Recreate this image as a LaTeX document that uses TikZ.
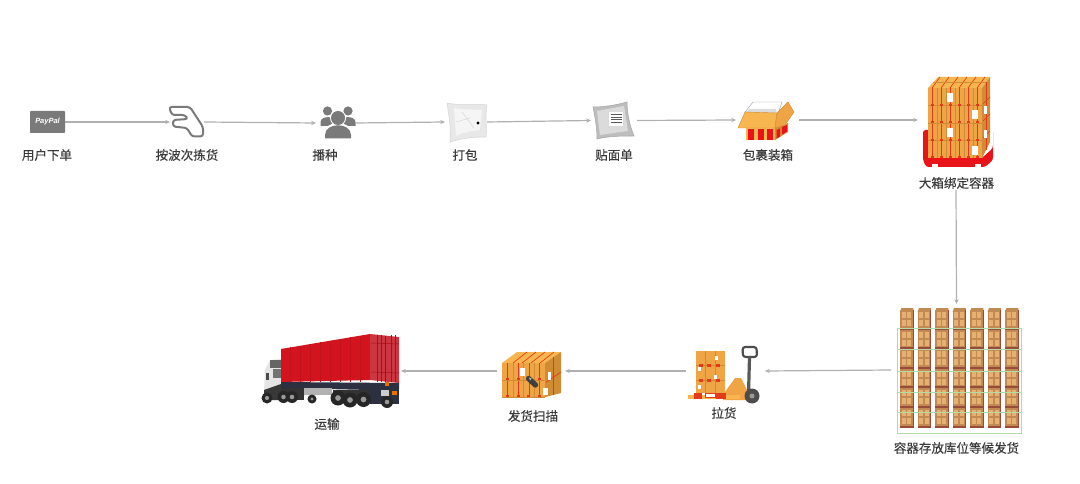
\documentclass[tikz,border=0pt]{standalone}
\usepackage{fontspec}
\setmainfont{Liberation Sans}
\newfontfamily\cjk[FakeBold=0.25]{Noto Sans CJK SC}
\usetikzlibrary{arrows.meta}
\definecolor{linegrey}{HTML}{B0B0B0}
\definecolor{icongrey}{HTML}{7A7A7A}
\definecolor{labeltext}{HTML}{3A3A3A}
\definecolor{cartonA}{HTML}{EFA545}
\definecolor{cartonB}{HTML}{F7B64F}
\definecolor{cartonC}{HTML}{D08B35}
\definecolor{strap}{HTML}{E23A1A}
\definecolor{cratebrown}{HTML}{C08A52}
\definecolor{cratelight}{HTML}{E6B070}
\definecolor{cratedark}{HTML}{9A4A3A}
\definecolor{rackgreen}{HTML}{B4DCA6}
\definecolor{boxred}{HTML}{E8141A}
\definecolor{contred}{HTML}{D3141F}
\definecolor{contside}{HTML}{CC3640}
\definecolor{chassis}{HTML}{2C3040}
\tikzset{
  flow/.style={draw=linegrey,line width=0.9pt,-{Stealth[length=3.6pt,width=3.2pt]}},
  lab/.style={font=\cjk\fontsize{9.4pt}{11pt}\selectfont,text=labeltext,inner sep=0pt,anchor=center},
  slot/.style={inner sep=0pt,outer sep=0pt,draw=none},
  rope/.style={draw=strap,line width=0.5pt},
  tyre/.style={fill=black!85,draw=none},
}
\newcommand{\slotnode}[5]{\node[slot,minimum width=#4*0.75pt,minimum height=#5*0.75pt] (#1) at (#2,#3) {};}
% front face of strapped pallet: x1,y1,x2,y2,columns,rows
\newcommand{\strapface}[6]{%
  \fill[cartonA] (#1,#2) rectangle (#3,#4);
  \pgfmathsetmacro{\dxx}{(#3-#1)/#5}
  \pgfmathsetmacro{\dyy}{(#4-#2)/#6}
  \foreach \cc in {1,...,#5}{
    \pgfmathsetmacro{\xa}{#1+(\cc-0.5)*\dxx}
    \draw[rope] (\xa,#2) -- (\xa,#4);
    \draw[cartonC,line width=0.3pt] ({#1+\cc*\dxx},#2) -- ({#1+\cc*\dxx},#4);
  }
  \foreach \rr in {1,...,#6}{
    \pgfmathsetmacro{\ya}{#2+\rr*\dyy}
    \draw[cartonC,line width=0.4pt] (#1,\ya) -- (#3,\ya);
    \foreach \cc in {1,...,#5}{
      \pgfmathsetmacro{\xa}{#1+(\cc-0.5)*\dxx}
      \fill[strap] (\xa-1.6,\ya-1.8) rectangle (\xa+1.6,\ya+0.4);
    }
  }
}
\begin{document}
\begin{tikzpicture}[x=0.75pt,y=-0.75pt]
\useasboundingbox (0,0) rectangle (1080,484);
\fill[white] (0,0) rectangle (1080,484);

% anchor slots for the connectors
\slotnode{pay}{47.5}{122}{35}{22}
\slotnode{hand}{187}{122}{34}{30}
\slotnode{people}{335.5}{123}{39}{36}
\slotnode{bag}{466}{122}{42}{40}
\slotnode{lbag}{614}{120.5}{46}{40}
\slotnode{openbox}{767.5}{120}{63}{40}
\slotnode{bigcrate}{956}{120}{76}{140}
\slotnode{store}{956.5}{370}{131}{132}
\slotnode{jack}{725.5}{371}{79}{54}
\slotnode{scan}{531}{371}{68}{48}
\slotnode{truck}{332.5}{371}{137}{76}

% PayPal card
\fill[icongrey,rounded corners=0.6pt] (30,111) rectangle (65,133);
\node[inner sep=0pt,text=white,font=\fontsize{5.6pt}{6pt}\selectfont\bfseries\itshape] (paytext) at (47.5,122) {PayPal};

% hand outline
\draw[icongrey,line width=1.5pt,line join=round,rounded corners=2pt,fill=white]
  (169,107) -- (190,107) -- (203,127) -- (203,136.5) -- (192,136.5) -- (187,128) -- (173,126.5)
  -- (173,120) -- (188,119) -- (185,115) -- (172,115) -- cycle;

% people
\fill[icongrey] (327.5,111) circle (4.6);
\fill[icongrey] (348,111) circle (4.6);
\fill[icongrey] (320.5,126) -- (320.5,122) .. controls (321,115.5) and (335,115.5) .. (335.5,122) -- (335.5,126) -- cycle;
\fill[icongrey] (340.5,126) -- (340.5,122) .. controls (341,115.5) and (355,115.5) .. (355.5,122) -- (355.5,126) -- cycle;
\fill[white] (338,118) circle (8);
\fill[white] (338,135) ellipse (15 and 12);
\fill[icongrey] (338,118) circle (7);
\fill[icongrey] (325,138.5) -- (325,135) .. controls (325,122) and (351,122) .. (351,135) -- (351,138.5) -- cycle;

% plain bag
\fill[black!9,draw=black!16,line width=0.4pt] (447,103) .. controls (460,106) and (475,103) .. (487,105)
  .. controls (485,116) and (487,126) .. (486,137) .. controls (474,137) and (462,138) .. (450,142)
  .. controls (451,128) and (449,115) .. (447,103) -- cycle;
\fill[black!4] (454,108) .. controls (462,110) and (472,109) .. (482,110) -- (480,130) .. controls (472,131) and (464,132) .. (456,136) -- cycle;
\draw[black!18,line width=0.3pt] (456,122) -- (470,118) (462,112) -- (474,128);
\fill[black] (478,123) circle (1.6);

% labelled bag
\fill[black!26,draw=black!34,line width=0.4pt] (593,107) .. controls (605,107) and (616,105) .. (627,102)
  .. controls (627,114) and (630,126) .. (634,136) .. controls (622,136) and (609,136) .. (597,139)
  .. controls (597,128) and (595,117) .. (593,107) -- cycle;
\fill[black!14] (597,111) -- (624,106) -- (628,131) -- (600,135) -- cycle;
\fill[white] (609,112) rectangle (623,126);
\foreach \yy in {114.5,117,119.5,122.5}{\draw[black!65,line width=0.5pt] (610.5,\yy) -- (621.5,\yy);}

% open carton
\fill[white,draw=black!40,line width=0.3pt] (753,102) -- (782,102) -- (778,114) -- (745,112) -- cycle;
\fill[black!14] (749,109) -- (776,109) -- (777,114) -- (746,112) -- cycle;
\fill[cartonC] (775,128) -- (788,123) -- (788,132) -- (775,140) -- cycle;
\fill[boxred] (776.5,130) -- (780,128.5) -- (780,136.5) -- (776.5,138.5) -- cycle;
\fill[boxred] (782,127) -- (787,125) -- (787,131.5) -- (782,134.5) -- cycle;
\fill[cartonB] (746,128) rectangle (775,140);
\foreach \xa in {747.5,757.5,767}{\fill[boxred] (\xa,129) rectangle (\xa+6,140);}
\fill[cartonB,draw=cartonC,line width=0.3pt] (745,112) -- (777,113) -- (775,128) -- (738,128) -- cycle;
\fill[cartonA,draw=cartonC,line width=0.3pt] (777,113) -- (788,102) -- (794,112) -- (785,125) -- (775,128) -- cycle;

% big crate on red frame
\fill[boxred,rounded corners=2pt] (923,130) -- (930,130) -- (930,158) -- (982,158) -- (993,148) -- (993,130) -- (993,160) -- (985,167) -- (926,167) -- (923,160) -- cycle;
\fill[cartonB] (928,88) -- (938,77) -- (990,77) -- (982,88) -- cycle;
\foreach \xa in {932,941,950,959,968,977}{\draw[rope] (\xa,88) -- (\xa+8,77);}
\draw[cartonC,line width=0.4pt] (933,82.5) -- (986,82.5);
\fill[cartonC] (982,88) -- (990,77) -- (990,142) -- (982,158) -- cycle;
\foreach \ya in {105,122,139}{\draw[rope] (982,\ya) -- (990,\ya-8);}
\draw[rope] (986,82.5) -- (986,150);
\strapface{928}{88}{982}{158}{6}{4}
\foreach \xx/\yy in {947/93,947/128,972/110,972/146}{\fill[white] (\xx,\yy) rectangle (\xx+6,\yy+9);}
\fill[white] (984,106) rectangle (987,114);
\fill[white] (984,130) rectangle (987,138);
\fill[boxred] (926,158) rectangle (982,163);
\fill[white] (932,164) rectangle (938,167);
\fill[white] (975,164) rectangle (981,167);

% storage grid
\foreach \cl in {0,...,6}{
  \pgfmathsetmacro{\xl}{900+17.5*\cl}
  \fill[cratebrown] (\xl+1.5,308) -- (\xl+13.5,308) -- (\xl+13,312) -- (\xl,312) -- cycle;
  \foreach \rw in {0,...,5}{
    \pgfmathsetmacro{\yl}{310+19.6*\rw}
    \fill[cratedark] (\xl,\yl) rectangle (\xl+13.5,\yl+19.6);
    \fill[cratebrown] (\xl,\yl) rectangle (\xl+12.5,\yl+17.6);
    \fill[cratelight] (\xl+1.5,\yl+2) rectangle (\xl+5.8,\yl+8);
    \fill[cratelight] (\xl+7,\yl+2) rectangle (\xl+11.3,\yl+8);
    \fill[cratelight] (\xl+1.5,\yl+10) rectangle (\xl+5.8,\yl+16);
    \fill[cratelight] (\xl+7,\yl+10) rectangle (\xl+11.3,\yl+16);
  }
}
\draw[rackgreen,line width=0.7pt] (897,328) rectangle (1021,433);
\foreach \ya in {349,371,392,412}{\draw[rackgreen,line width=0.7pt] (897,\ya) -- (1021,\ya);}

% pallet jack
\fill[cartonA] (696,351) rectangle (725,393);
\foreach \xa in {705.5,715.5}{\draw[cartonC,line width=0.3pt] (\xa,351) -- (\xa,393);}
\foreach \ya in {365,380}{
  \draw[cartonC,line width=0.3pt] (696,\ya) -- (725,\ya);
  \foreach \xa in {699,707,716}{\fill[strap] (\xa,\ya-1) rectangle (\xa+3.5,\ya+1.5);}
}
\foreach \xx/\yy in {698/367,715/356,714/375,698/385}{\fill[white] (\xx,\yy) rectangle (\xx+3,\yy+4);}
\fill[cartonA] (725,392) -- (735,378) -- (741,378) -- (748,392) -- (748,400) -- (723,400) -- cycle;
\fill[cartonB] (688,395) rectangle (740,398.5);
\fill[strap] (694,393) rectangle (702,399);
\fill[strap] (716,393) rectangle (726,399);
\fill[white,draw=strap,line width=0.3pt] (705,393) rectangle (715,397);
\draw[black!70,line width=1.6pt,rounded corners=2pt] (743,357) -- (742.5,347) -- (756.5,347) -- (757,357) -- cycle;
\draw[black!65,line width=2.4pt] (749.5,357) -- (748.5,394);
\fill[black!70] (752,396) circle (7.5);
\fill[black!40] (752,396) circle (2.5);

% scanned pallet
\fill[cartonB] (502,363) -- (517,352) -- (561,352) -- (545,363) -- cycle;
\foreach \xa in {513,522,531,540}{\draw[rope] (\xa,363) -- (\xa+14,352);}
\fill[cartonC] (545,363) -- (561,352) -- (561,393) -- (545,397) -- cycle;
\draw[rope] (545,383) -- (561,372);
\draw[rope] (553,357) -- (553,395);
\strapface{502}{363}{545}{397}{4}{2}
\fill[white] (543,388) rectangle (548,395);
\fill[white] (520,368) rectangle (525,376);
\fill[white] (548,372) rectangle (551,380);
\draw[black!75,line width=4pt,line cap=round] (528.5,378.5) -- (535.5,385);
\fill[black!25] (529,377.5) -- (531.5,378.5) -- (530,380.5) -- cycle;

% truck
\fill[black!10] (265,370) -- (270,360) -- (281,359) -- (281,390) -- (264,392) -- cycle;
\fill[black!60] (270,360) rectangle (281,368);
\fill[black!70] (266,373) rectangle (268.5,380);
\fill[black!55] (273,369) rectangle (281,378);
\fill[black!78] (264,390) -- (281,384) -- (281,400) -- (264,400) -- cycle;
\fill[chassis] (281,382) -- (399,383) -- (399,389) -- (370,390) -- (281,388) -- cycle;
\fill[black!30] (304,388) rectangle (332,395);
\fill[black!80] (281,388) rectangle (304,400);
\fill[black!80] (333,390) rectangle (370,403);
\fill[chassis] (370,388) rectangle (399,404);
\fill[orange!90!black] (392,391) rectangle (397,395);
\fill[orange!90!black] (385,382) rectangle (389,386);
\fill[white!80!black] (381,390) rectangle (389,396);
\foreach \wx/\wy/\wr in {267/398/5.5,283.5/397/6,292/397/6,312/399/4.5,338/398/7.5,350/400/7.5,363.5/399.5/7.5,387/402/6}{
  \fill[tyre] (\wx,\wy) circle (\wr);
  \fill[black!40] (\wx,\wy) circle (\wr*0.38);
}
\fill[contred] (281,349) -- (370,334) -- (370,380) -- (281,382) -- cycle;
\foreach \xa in {290,300,310,320,330,340,350,360}{
  \pgfmathsetmacro{\ta}{349-(\xa-281)*15/89}
  \draw[black!8!contred,line width=0.3pt] (\xa,\ta) -- (\xa,381.5);
}
\fill[contside] (370,334) -- (399,337) -- (399,383) -- (370,380) -- cycle;
\draw[contred!75!black,line width=0.5pt] (385,335.5) -- (385,381.5);
\draw[contred!80!black,line width=0.4pt] (371,343) -- (399,344);
\draw[contred!80!black,line width=0.4pt] (371,372) -- (399,373);
\foreach \xa in {377,381,391,395}{\draw[contred!80!black,line width=0.25pt] (\xa,335) -- (\xa,382);}

% labels
\node[lab] (t1) at (47,155) {用户下单};
\node[lab] (t2) at (187,155) {按波次拣货};
\node[lab] (t3) at (325,155) {播种};
\node[lab] (t4) at (465,155) {打包};
\node[lab] (t5) at (614,155) {贴面单};
\node[lab] (t6) at (768,155) {包裹装箱};
\node[lab] (t7) at (956.5,183) {大箱绑定容器};
\node[lab] (t8) at (956.5,448) {容器存放库位等候发货};
\node[lab] (t9) at (724,413) {拉货};
\node[lab] (t10) at (533,416) {发货扫描};
\node[lab] (t11) at (327,424) {运输};

% connectors
\draw[flow] (pay.east) -- (hand.west);
\draw[flow] (hand.east) -- (people.west);
\draw[flow] (people.east) -- (bag.west);
\draw[flow] (bag.east) -- (lbag.west);
\draw[flow] (lbag.east) -- (openbox.west);
\draw[flow] (openbox.east) -- (bigcrate.west);
\draw[flow] (bigcrate.south) -- (store.north);
\draw[flow] (store.west) -- (jack.east);
\draw[flow] (jack.west) -- (scan.east);
\draw[flow] (scan.west) -- (truck.east);
\end{tikzpicture}
\end{document}
